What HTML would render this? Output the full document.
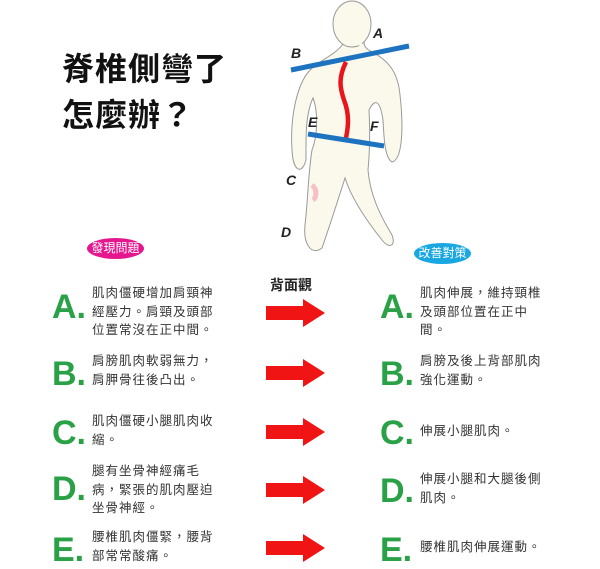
<!DOCTYPE html>
<html><head><meta charset="utf-8"><style>
body{margin:0;width:600px;height:566px;background:#fff;position:relative;overflow:hidden;font-family:"Liberation Sans","Noto Sans CJK TC",sans-serif;color:#222}
.a{position:absolute}
.t{font-size:32px;font-weight:bold;color:#111;letter-spacing:1px}
.L{font-size:34px;color:#2aa146;font-weight:bold;line-height:1}
.x{font-size:12.5px;line-height:18.5px;color:#333;letter-spacing:1px}
.pill{border-radius:50%;color:#fff;font-size:12px;text-align:center}
</style></head><body>
<div class="a t" style="left:62px;top:44px">脊椎側彎了</div>
<div class="a t" style="left:62px;top:90px">怎麼辦？</div>
<svg class="a" style="left:0;top:0" width="600" height="270">
<path d="M343,44 C335,55 320,60 310,70 C296,85 290,120 292,150 C293,172 302,175 306,160 C306,140 305,115 313,98 C318,110 318,135 312,150 C308,175 308,200 305,225 C303,245 312,256 322,248 C330,225 338,200 345,178 C352,200 370,225 382,240 C390,250 396,245 392,235 C380,215 370,195 368,170 C370,150 370,130 369,110 C375,98 380,100 383,120 C384,140 385,158 392,162 C402,160 404,130 400,95 C398,72 388,60 372,52 C364,48 364,44 364,42 Z" fill="#fbf9ec" stroke="#999" stroke-width="1"/>
<ellipse cx="352" cy="24" rx="19" ry="23" fill="#fbf9ec" stroke="#999" stroke-width="1"/>
<path d="M345,44 L362,44" stroke="#fbf9ec" stroke-width="3"/>
<path d="M312,185 C318,190 316,198 313,200" stroke="#f7c0c8" stroke-width="5" fill="none"/>
<line x1="291" y1="70" x2="409" y2="46" stroke="#1e73c0" stroke-width="5"/>
<path d="M346,62 C338,78 340,88 344,100 C350,115 348,128 346,138" stroke="#e8151c" stroke-width="4.5" fill="none"/>
<line x1="308" y1="134" x2="384" y2="146" stroke="#1e73c0" stroke-width="5"/>
<g font-family="Liberation Sans" font-style="italic" font-weight="bold" font-size="14" fill="#222">
<text x="373" y="38">A</text><text x="291" y="58">B</text><text x="308" y="127">E</text><text x="370" y="131">F</text><text x="286" y="185">C</text><text x="281" y="237">D</text></g>
</svg>
<div class="a pill" style="left:87px;top:238px;width:57px;height:21px;line-height:21px;background:#e4178f">發現問題</div>
<div class="a pill" style="left:414px;top:243px;width:57px;height:21px;line-height:21px;background:#19a7e2">改善對策</div>
<div class="a" style="left:270px;top:275px;font-size:14px;font-weight:bold">背面觀</div>

<div class="a L" style="left:52px;top:290px">A.</div>
<div class="a x" style="left:92px;top:284px">肌肉僵硬增加肩頸神<br>經壓力。肩頸及頭部<br>位置常沒在正中間。</div>
<div class="a L" style="left:380px;top:290px">A.</div>
<div class="a x" style="left:420px;top:284px">肌肉伸展，維持頸椎<br>及頭部位置在正中<br>間。</div>

<div class="a L" style="left:52px;top:357px">B.</div>
<div class="a x" style="left:92px;top:352px">肩膀肌肉軟弱無力，<br>肩胛骨往後凸出。</div>
<div class="a L" style="left:380px;top:357px">B.</div>
<div class="a x" style="left:420px;top:352px">肩膀及後上背部肌肉<br>強化運動。</div>

<div class="a L" style="left:52px;top:416px">C.</div>
<div class="a x" style="left:92px;top:412px">肌肉僵硬小腿肌肉收<br>縮。</div>
<div class="a L" style="left:380px;top:416px">C.</div>
<div class="a x" style="left:420px;top:422px">伸展小腿肌肉。</div>

<div class="a L" style="left:52px;top:472px">D.</div>
<div class="a x" style="left:92px;top:462px">腿有坐骨神經痛毛<br>病，緊張的肌肉壓迫<br>坐骨神經。</div>
<div class="a L" style="left:380px;top:474px">D.</div>
<div class="a x" style="left:420px;top:470px">伸展小腿和大腿後側<br>肌肉。</div>

<div class="a L" style="left:52px;top:533px">E.</div>
<div class="a x" style="left:92px;top:528px">腰椎肌肉僵緊，腰背<br>部常常酸痛。</div>
<div class="a L" style="left:380px;top:533px">E.</div>
<div class="a x" style="left:420px;top:538px">腰椎肌肉伸展運動。</div>

<svg class="a" style="left:0;top:0" width="600" height="566">
<g fill="#f01414">
<path d="M266,306 H303 V299 L325,313 L303,327 V320 H266 Z"/>
<path d="M266,366 H303 V359 L325,373 L303,387 V380 H266 Z"/>
<path d="M266,425 H303 V418 L325,432 L303,446 V439 H266 Z"/>
<path d="M266,483 H303 V476 L325,490 L303,504 V497 H266 Z"/>
<path d="M266,541 H303 V534 L325,548 L303,562 V555 H266 Z"/>
</g></svg>
</body></html>
